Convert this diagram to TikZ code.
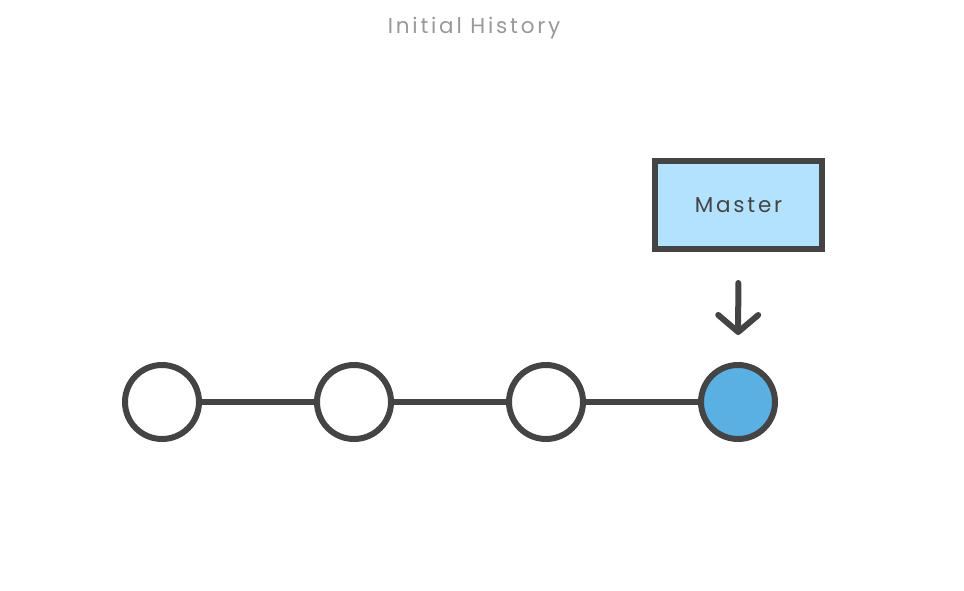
\documentclass[tikz,border=0pt]{standalone}
\usepackage{fontspec}
\setmainfont{Poppins}
\newfontfamily\spacedfont[LetterSpace=13]{Poppins}
\usetikzlibrary{arrows.meta}
\definecolor{ink}{HTML}{444444}
\definecolor{boxblue}{HTML}{B3E2FF}
\definecolor{headblue}{HTML}{5AAFE3}
\definecolor{titlegray}{HTML}{999999}
\begin{document}
\begin{tikzpicture}[x=1pt,y=-1pt,line width=6pt,draw=ink]
				\tikzstyle{commit} = [circle,draw=ink,fill=white,minimum size=74pt,inner sep=0pt]
				\tikzstyle{branch} = [rectangle,draw=ink,fill=boxblue,minimum width=167pt,minimum height=88pt,inner sep=0pt,font=\spacedfont\fontsize{21.5}{24}\selectfont,text=ink]
				
				\useasboundingbox (0,0) rectangle (964,590);
				
				\node[text=titlegray,font=\spacedfont\fontsize{21.5}{24}\selectfont] (title) at (474,28) {Initial History};
				
				\node[commit] (c1) at (162,402) {};
				\node[commit] (c2) at (354,402) {};
				\node[commit] (c3) at (546,402) {};
				\node[commit,fill=headblue] (c4) at (738,402) {};
				\node[branch] (master) at (738.5,205) {\raisebox{-3pt}{Master}};
				
				\path[draw=ink] (c1) edge (c2);
				\path[draw=ink] (c2) edge (c3);
				\path[draw=ink] (c3) edge (c4);
				\path[draw=ink,line cap=round,-{Straight Barb[length=17pt,width=40pt,round]},shorten <=31pt,shorten >=27pt] (master) edge (c4);
			\end{tikzpicture}
\end{document}
